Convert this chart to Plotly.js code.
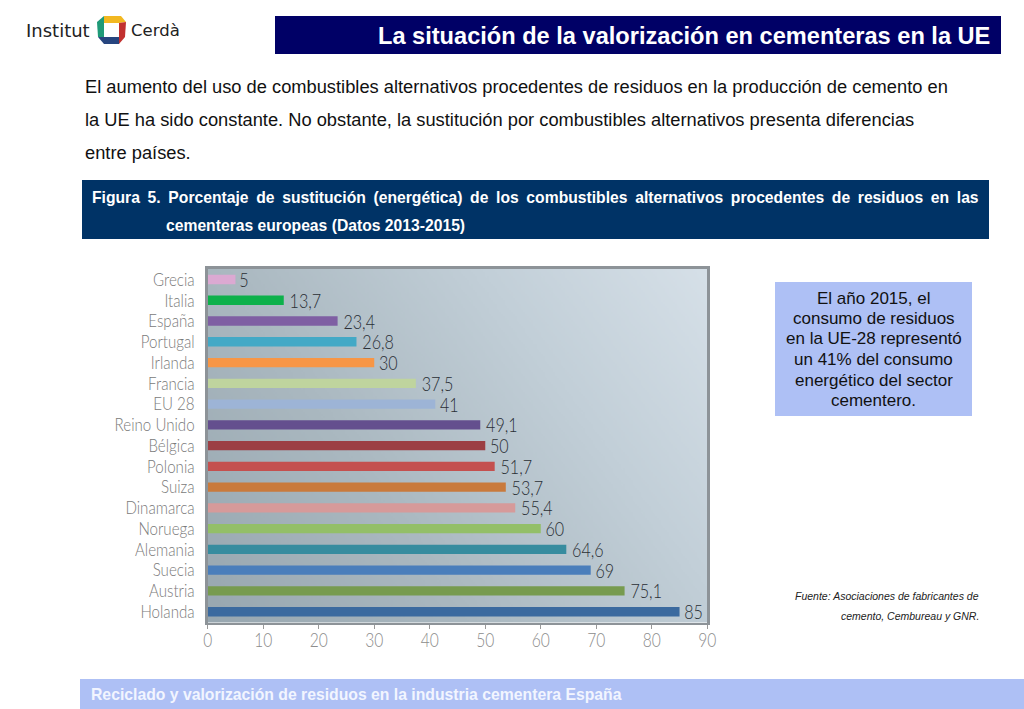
<!DOCTYPE html>
<html><head><meta charset="utf-8">
<script src="https://cdn.plot.ly/plotly-3.0.1.min.js"></script>
<style>html,body{margin:0;padding:0;background:#fff;overflow:hidden}#c{width:1024px;height:709px}</style>
</head><body><div id="c"></div>
<script>
const categories=["Grecia","Italia","España","Portugal","Irlanda","Francia","EU 28","Reino Unido","Bélgica","Polonia","Suiza","Dinamarca","Noruega","Alemania","Suecia","Austria","Holanda"];
const values=[5,13.7,23.4,26.8,30,37.5,41,49.1,50,51.7,53.7,55.4,60,64.6,69,75.1,85];
const barColors=["#dba9d2","#0db14b","#7f5fa3","#43a9c6","#f79646","#bfd49e","#9db4d6","#644f8e","#9c3f44","#c4504f","#c97a3c","#d69a9a","#93bf68","#378c9f","#4a7ebb","#779b4f","#3b6a9f"];
const xTicks=[0,10,20,30,40,50,60,70,80,90];
const W=1024,H=709;
const px=x=>x/W, py=y=>1-y/H;
const chartFont='Lato,"Open Sans",sans-serif';
const textFont='"Liberation Sans",Arial,sans-serif';
function rect(x0,y0,x1,y1,c){return {type:'rect',xref:'paper',yref:'paper',x0:px(x0),x1:px(x1),y0:py(y0),y1:py(y1),fillcolor:c,line:{width:0},layer:'below'};}
function poly(pts,c){return {type:'path',xref:'paper',yref:'paper',path:'M'+pts.map(p=>px(p[0])+','+py(p[1])).join('L')+'Z',fillcolor:c,line:{width:0}};}
function note(t,x,y,size,color,anchor,extra){return Object.assign({text:t,xref:'paper',yref:'paper',x:px(x),y:py(y),xanchor:anchor||'left',yanchor:'middle',showarrow:false,borderpad:0,font:{family:textFont,size:size,color:color}},extra||{});}
function bold(size,color){return {font:{family:textFont,size:size,color:color,weight:700}};}
const bgc=document.createElement('canvas');bgc.width=500;bgc.height=354;
const g=bgc.getContext('2d');const gr=g.createLinearGradient(0,354,500,0);
gr.addColorStop(0,'#98a7b0');gr.addColorStop(.35,'#aab8c0');gr.addColorStop(.7,'#c2cfd8');gr.addColorStop(1,'#d6e0e8');
g.fillStyle=gr;g.fillRect(0,0,500,354);
const navy='#000066',blue='#003366',pale='#aec0f5';
const shapes=[
 rect(275,16,1001,54,navy),
 rect(82,180,989,239,blue),
 rect(775,282,972,416,pale),
 rect(80,679,1024,709,pale),
 poly([[104,16],[121,16],[126,22],[119,23],[104,23]],'#f2b821'),
 poly([[104,16],[104,23],[104,37],[98,37],[97,22]],'#1f9a78'),
 poly([[98,37],[104,37],[119,37],[119,44],[104,44]],'#27457f'),
 poly([[119,23],[126,22],[125,37],[119,44]],'#c2312f')
];
const annotations=[
 note('Institut',25,30.5,18,'#222','left',{font:{family:'"DejaVu Sans",sans-serif',size:18,color:'#222'}}),
 note('Cerdà',130,30.5,16.5,'#222','left',{font:{family:'"DejaVu Sans",sans-serif',size:16.5,color:'#222'}}),
 note('La situación de la valorización en cementeras en la UE',990.5,35.5,23.6,'#fff','right',bold(23.6,'#fff')),
 note('El aumento del uso de combustibles alternativos procedentes de residuos en la producción de cemento en',84.3,86.5,18.3,'#111'),
 note('la UE ha sido constante. No obstante, la sustitución por combustibles alternativos presenta diferencias',84.3,119.5,18.3,'#111'),
 note('entre países.',84.3,152,18.3,'#111'),
 note('Figura 5. Porcentaje de sustitución (energética) de los combustibles alternativos procedentes de residuos en las',90.5,197.5,15.7,'#fff','left',Object.assign({width:895,align:'left'},bold(15.7,'#fff'))),
 note('cementeras europeas (Datos 2013-2015)',164.5,225.5,15.7,'#fff','left',bold(15.7,'#fff')),
 note('El año 2015, el',873.5,298,17,'#111','center'),
 note('consumo de residuos',873.5,318,17,'#111','center'),
 note('en la UE-28 representó',873.5,339,17,'#111','center'),
 note('un 41% del consumo',873.5,359,17,'#111','center'),
 note('energético del sector',873.5,380,17,'#111','center'),
 note('cementero.',873.5,400.5,17,'#111','center'),
 note('<i>Fuente: Asociaciones de fabricantes de</i>',979.5,596,10.5,'#222','right'),
 note('<i>cemento, Cembureau y GNR.</i>',979.5,615.5,10.5,'#222','right'),
 note('Reciclado y valorización de residuos en la industria cementera España',89.5,694,15.75,'#f2f5ff','left',bold(15.75,'#f2f5ff'))
];
const trace={type:'bar',orientation:'h',y:categories,x:values,width:0.45,
 marker:{color:barColors,line:{width:0}},
 text:values.map(v=>String(v).replace('.',',')),textposition:'outside',cliponaxis:false,constraintext:'none',
 outsidetextfont:{family:chartFont,size:19,color:'#2a2f35',weight:300},hoverinfo:'skip'};
const layout={width:W,height:H,margin:{l:0,r:0,t:0,b:0},paper_bgcolor:'#fff',plot_bgcolor:'rgba(0,0,0,0)',showlegend:false,
 separators:',.',font:{family:chartFont},
 xaxis:{domain:[px(207.7),px(707.3)],range:[0,90],tickmode:'array',tickvals:xTicks,ticktext:xTicks.map(String),ticks:'outside',ticklen:4,tickwidth:1,tickcolor:'#999',ticklabelstandoff:-5,
  showgrid:false,zeroline:false,showline:true,mirror:true,linecolor:'#8d9398',linewidth:2.5,tickfont:{family:chartFont,size:19,color:'#8c8c8c',weight:300},automargin:false},
 yaxis:{domain:[py(622.5),py(268.5)],type:'category',categoryorder:'array',categoryarray:categories,tickmode:'array',tickvals:categories,ticktext:categories,range:[16.52,-0.53],ticks:'',showgrid:false,zeroline:false,showline:true,mirror:true,linecolor:'#8d9398',linewidth:2.5,
  tickfont:{family:chartFont,size:18,color:'#7a7a7a',weight:300},ticklabelstandoff:7,automargin:false},
 images:[{source:bgc.toDataURL('image/png'),xref:'paper',yref:'paper',x:px(207.7),y:py(268.5),sizex:499.6/W,sizey:354/H,sizing:'stretch',xanchor:'left',yanchor:'top',layer:'below'}],
 shapes:shapes,annotations:annotations};
function squeeze(sel,f){document.querySelectorAll(sel).forEach(t=>{const n=t.getComputedTextLength();t.setAttribute('textLength',(n*f).toFixed(1));t.setAttribute('lengthAdjust','spacingAndGlyphs');});}
Plotly.newPlot('c',[trace],layout,{displayModeBar:false,staticPlot:true}).then(()=>{
 document.querySelectorAll('.annotation[data-index="6"] text').forEach(t=>t.style.wordSpacing='3.3px');
 squeeze('.ytick text',0.84);squeeze('.xtick text',0.82);squeeze('.bartext',0.85);
});
</script></body></html>
